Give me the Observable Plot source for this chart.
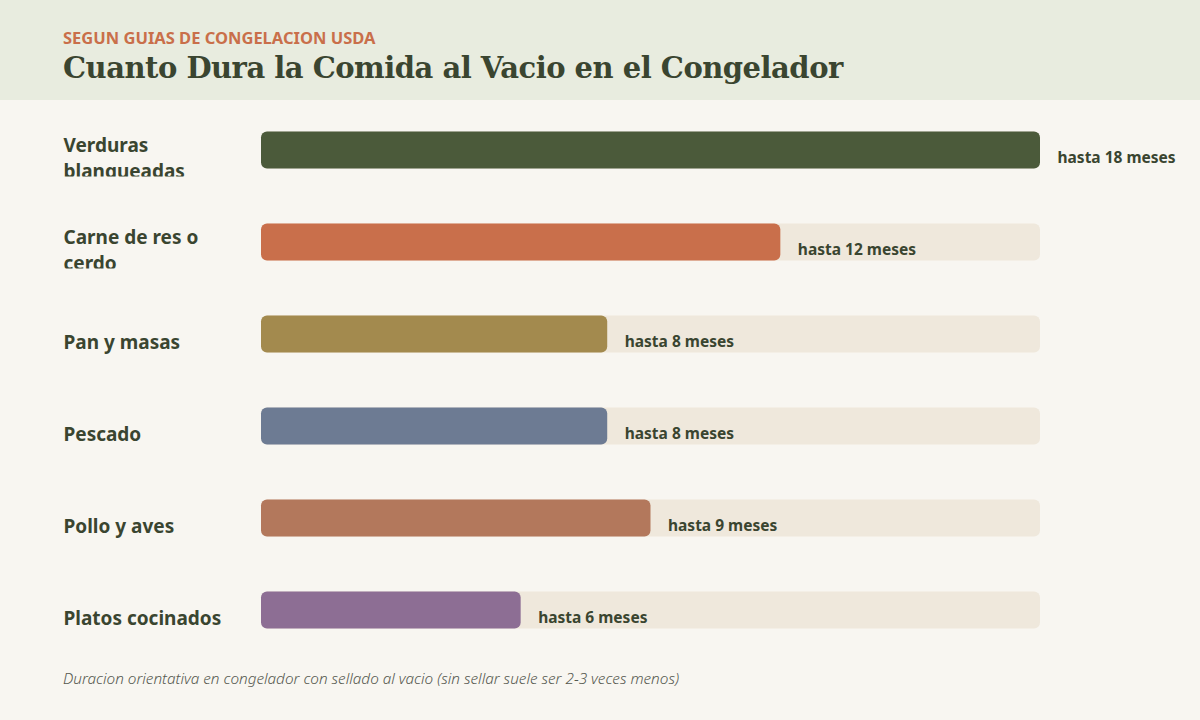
<!DOCTYPE html>
<html>
<head>
<meta charset="utf-8">
<script src="https://cdn.jsdelivr.net/npm/d3@7"></script>
<script src="https://cdn.jsdelivr.net/npm/@observablehq/plot@0.6"></script>
<style>
  html, body { margin: 0; padding: 0; background: #f8f6f1; width: 1200px; height: 720px; overflow: hidden; }
  .header { background: #e8ecdf; height: 100px; box-sizing: border-box; padding: 28px 0 0 63px; }
  .kicker { font-family: "Segoe UI", "Noto Sans", sans-serif; font-weight: 700; font-size: 16.5px; color: #c96f4a; line-height: 20px; }
  .title { font-family: Georgia, "DejaVu Serif", serif; font-weight: 700; font-size: 29px; color: #3a4530; line-height: 36px; margin-top: 2px; letter-spacing: -0.5px; }
  .footer { font-family: "Segoe UI", "Noto Sans", sans-serif; font-style: italic; font-weight: 300; font-size: 15.3px; color: #55584f; position: absolute; left: 63px; top: 668px; }
  #chart { position: absolute; left: 0; top: 100px; }
</style>
</head>
<body>
<div class="header">
  <div class="kicker">SEGUN GUIAS DE CONGELACION USDA</div>
  <div class="title">Cuanto Dura la Comida al Vacio en el Congelador</div>
</div>
<div id="chart"></div>
<div class="footer">Duracion orientativa en congelador con sellado al vacio (sin sellar suele ser 2-3 veces menos)</div>
<script>
const categories = ["Verduras blanqueadas", "Carne de res o cerdo", "Pan y masas", "Pescado", "Pollo y aves", "Platos cocinados"];
const months = [18, 12, 8, 8, 9, 6];
const colors = ["#4b5a3a", "#c96f4b", "#a38a4e", "#6d7b93", "#b3785c", "#8d6e94"];
const valueLabels = ["hasta 18 meses", "hasta 12 meses", "hasta 8 meses", "hasta 8 meses", "hasta 9 meses", "hasta 6 meses"];

const data = categories.map((c, i) => ({category: c, months: months[i], color: colors[i], label: valueLabels[i]}));
const maxMonths = d3.max(months);

const sans = "'Segoe UI', 'Noto Sans', sans-serif";
const textColor = "#3a4530";
const labelDy = 6;

const plot = Plot.plot({
  width: 1200,
  height: 560,
  marginLeft: 63,
  marginRight: 160,
  marginTop: 0,
  marginBottom: 0,
  style: {background: "transparent", fontFamily: sans, overflow: "visible"},
  x: {domain: [0, maxMonths], range: [261, 1040], axis: null},
  y: {type: "band", domain: categories, range: [3.5, 555.5], padding: 0, axis: null},
  marks: [
    Plot.barX(data, {y: "category", x: () => maxMonths, fill: "#efe8dc", insetTop: 27.5, insetBottom: 27.5, rx: 6}),
    Plot.barX(data, {y: "category", x: "months", fill: d => d.color, insetTop: 27.5, insetBottom: 27.5, rx: 6}),
    Plot.text(data, {y: "category", x: "months", text: "label", textAnchor: "start", dx: 17, dy: 8, fontSize: 15.5, fontWeight: 700, fill: textColor}),
    Plot.text(data, {y: "category", frameAnchor: "left", text: "category", textAnchor: "start", lineWidth: 10, lineHeight: 1.38, dy: labelDy, fontSize: 19, fontWeight: 700, fill: textColor})
  ]
});
document.getElementById("chart").appendChild(plot);

// clip each category label to its row box (local coordinates of each text element)
const svgEl = plot.tagName.toLowerCase() === "svg" ? plot : plot.querySelector("svg");
const svg = d3.select(svgEl);
svg.append("defs").append("clipPath").attr("id", "label-clip")
  .append("rect").attr("x", -20).attr("width", 220).attr("y", -70).attr("height", 70 + 26 - labelDy);
const textGroups = svgEl.querySelectorAll('g[aria-label="text"]');
d3.select(textGroups[textGroups.length - 1]).selectAll("text").attr("clip-path", "url(#label-clip)");
</script>
</body>
</html>
